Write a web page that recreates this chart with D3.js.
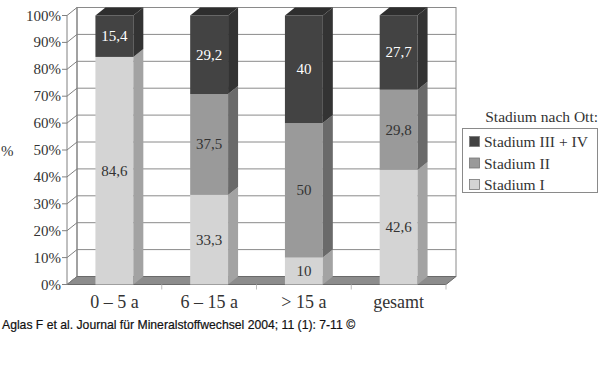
<!DOCTYPE html>
<html><head><meta charset="utf-8">
<script src="https://cdn.jsdelivr.net/npm/d3@7"></script>
<style>body{margin:0;background:#fff}svg{display:block}</style>
</head><body>
<svg id="c" width="600" height="374"></svg>
<script>
const categories = ["0 – 5 a", "6 – 15 a", "> 15 a", "gesamt"];
const stadiumI = [84.6, 33.3, 10, 42.6];
const stadiumII = [0, 37.5, 50, 29.8];
const stadiumIIIIV = [15.4, 29.2, 40, 27.7];
const seriesNames = ["Stadium I", "Stadium II", "Stadium III + IV"];
const yTicks = [0,10,20,30,40,50,60,70,80,90,100];
const legendTitle = "Stadium nach Ott:";
const caption = "Aglas F et al. Journal für Mineralstoffwechsel 2004; 11 (1): 7-11 ©";

const series = [stadiumI, stadiumII, stadiumIIIIV];
const frontCol = ["#d4d4d4", "#9a9a9a", "#434343"];
const sideCol  = ["#a3a3a3", "#6a6a6a", "#333333"];
const topCol   = ["#c2c2c2", "#808080", "#2e2e2e"];
const labelCol = ["#333", "#333", "#fff"];

const svg = d3.select("#c");
const serif = "'Liberation Serif','Times New Roman',serif";
const dx = 10, dy = -8;
const x = d3.scaleBand().domain(categories).range([67, 446]).paddingInner(0.6).paddingOuter(0.3);
const y = d3.scaleLinear().domain([0, 100]).range([284.5, 15.5]);
const xl = 67, xr = 446;
const pts = a => a.map(p => p.join(",")).join(" ");

// back wall
svg.append("rect").attr("x", xl+dx).attr("y", y(100)+dy).attr("width", xr-xl).attr("height", y(0)-y(100))
  .attr("fill", "#fff").attr("stroke", "#8a8a8a").attr("stroke-width", 1);
// floor
svg.append("polygon").attr("points", pts([[xl, y(0)], [xr, y(0)], [xr+dx, y(0)+dy], [xl+dx, y(0)+dy]]))
  .attr("fill", "#8c8c8c").attr("stroke", "#6a6a6a").attr("stroke-width", 1);
// gridlines & left wall
yTicks.forEach(t => {
  const yy = y(t);
  if (t > 0) svg.append("line").attr("x1", xl+dx).attr("x2", xr+dx).attr("y1", yy+dy).attr("y2", yy+dy)
    .attr("stroke", "#8a8a8a").attr("stroke-width", 1);
  svg.append("line").attr("x1", xl).attr("x2", xl+dx).attr("y1", yy).attr("y2", yy+dy)
    .attr("stroke", "#808080").attr("stroke-width", 1);
  svg.append("line").attr("x1", xl-5).attr("x2", xl).attr("y1", yy).attr("y2", yy)
    .attr("stroke", "#808080").attr("stroke-width", 1);
  svg.append("text").attr("x", 61).attr("y", yy+5).attr("text-anchor", "end")
    .attr("font-family", serif).attr("font-size", 15).attr("fill", "#333").text(t + "%");
});
svg.append("line").attr("x1", xl).attr("x2", xl).attr("y1", y(100)).attr("y2", y(0)).attr("stroke", "#808080");
svg.append("line").attr("x1", xl+dx).attr("x2", xl+dx).attr("y1", y(100)+dy).attr("y2", y(0)+dy).attr("stroke", "#808080");
// category ticks on floor front edge
categories.forEach((c, i) => {
  const bx = xl + (xr - xl) * (i + 1) / categories.length;
  svg.append("line").attr("x1", bx).attr("x2", bx).attr("y1", y(0)).attr("y2", y(0)+5).attr("stroke", "#bbb");
});
svg.append("text").attr("x", 1).attr("y", 155.5).attr("font-family", serif).attr("font-size", 15).attr("fill", "#333").text("%");

// bars
categories.forEach((c, i) => {
  const x0 = x(c), x1 = x0 + x.bandwidth();
  let cum = 0;
  const segs = [];
  series.forEach((s, k) => {
    const v = s[i];
    if (v > 0) segs.push({k, v, a: cum, b: cum + v});
    cum += v;
  });
  segs.forEach((sg, j) => {
    const ya = y(sg.a), yb = y(sg.b);
    svg.append("rect").attr("x", x0).attr("y", yb).attr("width", x1-x0).attr("height", ya-yb).attr("fill", frontCol[sg.k]);
    svg.append("polygon").attr("points", pts([[x1, ya], [x1+dx, ya+dy], [x1+dx, yb+dy], [x1, yb]])).attr("fill", sideCol[sg.k]);
    if (j === segs.length - 1)
      svg.append("polygon").attr("points", pts([[x0, yb], [x1, yb], [x1+dx, yb+dy], [x0+dx, yb+dy]])).attr("fill", topCol[sg.k]);
    svg.append("text").attr("x", (x0+x1)/2).attr("y", (ya+yb)/2 + 5).attr("text-anchor", "middle")
      .attr("font-family", serif).attr("font-size", 15).attr("fill", labelCol[sg.k])
      .text(String(sg.v).replace(".", ","));
  });
  svg.append("text").attr("x", (x0+x1)/2).attr("y", 308).attr("text-anchor", "middle")
    .attr("font-family", serif).attr("font-size", 18).attr("fill", "#333").text(c);
});

// legend
svg.append("text").attr("x", 598).attr("y", 122).attr("text-anchor", "end")
  .attr("font-family", serif).attr("font-size", 15.5).attr("fill", "#333").text(legendTitle);
svg.append("rect").attr("x", 462.5).attr("y", 128.5).attr("width", 135).attr("height", 64)
  .attr("fill", "#fff").attr("stroke", "#8a8a8a");
[2, 1, 0].forEach((k, j) => {
  const ly = 136 + j * 21.5;
  svg.append("rect").attr("x", 469.5).attr("y", ly+0.5).attr("width", 10).attr("height", 10)
    .attr("fill", frontCol[k]).attr("stroke", "#777").attr("stroke-width", 0.8);
  svg.append("text").attr("x", 484).attr("y", ly + 11).attr("font-family", serif).attr("font-size", 15.5)
    .attr("fill", "#333").text(seriesNames[k]);
});

// caption
svg.append("text").attr("x", 2).attr("y", 329).attr("font-family", "'Liberation Sans',Arial,sans-serif")
  .attr("font-size", 12.2).attr("fill", "#111").attr("stroke", "#111").attr("stroke-width", 0.2).text(caption);
</script>
</body></html>
